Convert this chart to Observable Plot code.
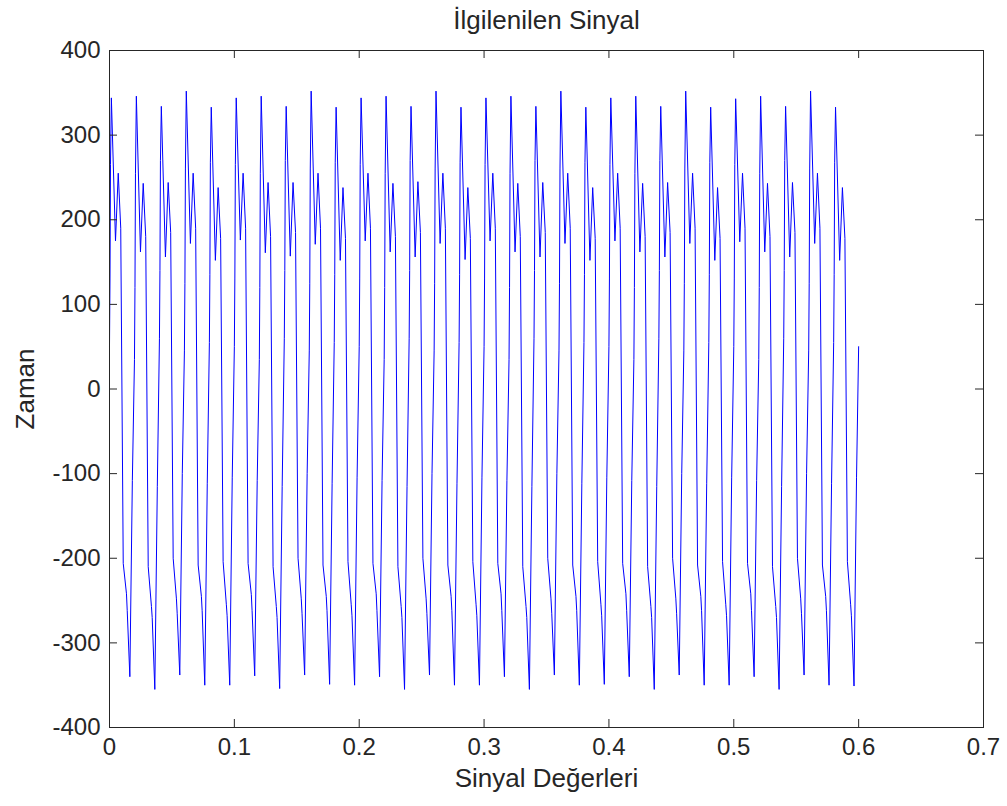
<!DOCTYPE html>
<html><head><meta charset="utf-8">
<script src="https://cdn.jsdelivr.net/npm/d3@7"></script>
<script src="https://cdn.jsdelivr.net/npm/@observablehq/plot@0.6"></script>
<style>body{margin:0;background:#fff}</style>
</head><body><div id="chart"></div>
<script>
const title = "İlgilenilen Sinyal";
const xLabel = "Sinyal Değerleri";
const yLabel = "Zaman";
const xTicks = [0, 0.1, 0.2, 0.3, 0.4, 0.5, 0.6, 0.7];
const yTicks = [-400, -300, -200, -100, 0, 100, 200, 300, 400];

// cycle length (s) and times, inside one cycle, of the key points
const cyclePeriod = 0.02;
const keyOffsets = [0, 0.0004, 0.0008, 0.0015, 0.0048, 0.0070, 0.0090, 0.0110, 0.0136, 0.0142, 0.0163, 0.0183];
// per cycle: start, rise, rise, peak, dip, 2nd peak, fall, fall, shelf, shelf step, minimum, rise
const cycleValues = [
  [50, 130, 265, 344, 175, 255, 190, -206, -242, -262, -340, -108],
  [35, 120, 255, 346, 162, 243, 180, -210, -257, -270, -355, -115],
  [60, 140, 270, 334, 156, 244, 185, -200, -248, -265, -338, -100],
  [45, 125, 260, 352, 172, 255, 190, -208, -245, -262, -350, -112],
  [55, 135, 268, 333, 152, 238, 178, -204, -255, -268, -350, -105],
  [50, 130, 265, 344, 176, 255, 190, -206, -243, -262, -339, -108],
  [35, 120, 255, 346, 161, 244, 180, -210, -257, -270, -354, -115],
  [60, 140, 270, 334, 157, 244, 185, -200, -248, -265, -338, -100],
  [45, 125, 260, 352, 171, 255, 190, -208, -245, -262, -349, -112],
  [55, 135, 268, 333, 152, 238, 178, -204, -255, -268, -350, -105],
  [50, 130, 265, 344, 175, 255, 190, -206, -242, -262, -340, -108],
  [35, 120, 255, 346, 162, 243, 180, -210, -257, -270, -355, -115],
  [60, 140, 270, 334, 156, 245, 185, -200, -248, -265, -338, -100],
  [45, 125, 260, 352, 172, 255, 190, -208, -245, -262, -350, -112],
  [55, 135, 268, 333, 153, 238, 178, -204, -255, -268, -350, -105],
  [50, 130, 265, 344, 175, 255, 190, -206, -242, -262, -340, -108],
  [35, 120, 255, 346, 162, 243, 180, -210, -257, -270, -355, -115],
  [60, 140, 270, 334, 156, 244, 185, -200, -248, -265, -338, -100],
  [45, 125, 260, 352, 172, 255, 190, -208, -245, -262, -350, -112],
  [55, 135, 268, 333, 152, 238, 178, -204, -255, -268, -349, -105],
  [50, 130, 265, 344, 175, 255, 190, -206, -242, -262, -340, -108],
  [35, 120, 255, 346, 162, 243, 180, -210, -257, -270, -355, -115],
  [60, 140, 270, 334, 156, 244, 185, -200, -248, -265, -338, -100],
  [45, 125, 260, 352, 172, 255, 190, -208, -245, -262, -350, -112],
  [55, 135, 268, 333, 152, 238, 178, -204, -255, -268, -350, -105],
  [50, 130, 265, 343, 174, 255, 190, -206, -242, -262, -340, -108],
  [35, 120, 255, 346, 162, 243, 180, -210, -257, -270, -355, -115],
  [60, 140, 270, 334, 156, 244, 185, -200, -248, -265, -338, -100],
  [45, 125, 260, 352, 172, 255, 190, -208, -245, -262, -350, -112],
  [55, 135, 268, 333, 152, 238, 178, -204, -255, -268, -351, -105]
];
const endPoint = {t: 0.6, v: 50};

const data = [];
cycleValues.forEach((row, k) => {
  row.forEach((v, j) => data.push({t: k * cyclePeriod + keyOffsets[j], v}));
});
data.push(endPoint);

const W = 1007, H = 806;
const mL = 109, mR = 24, mT = 50, mB = 79;
const plotH = H - mT - mB, plotW = W - mL - mR;
const ink = "#262626";
const tick = 8;

const chart = Plot.plot({
  width: W, height: H,
  marginLeft: mL, marginRight: mR, marginTop: mT, marginBottom: mB,
  x: {domain: [0, 0.7]},
  y: {domain: [-400, 400]},
  style: {fontFamily: "'Liberation Sans', Arial, sans-serif", fontSize: "24px", color: ink, background: "#fff"},
  marks: [
    Plot.axisX(xTicks, {tickSize: 0, tickPadding: 10, label: null, tickFormat: d => String(d), fontSize: 24, fill: ink}),
    Plot.axisY(yTicks, {tickSize: 0, tickPadding: 9, label: null, tickFormat: d => String(d), fontSize: 24, fill: ink}),
    Plot.line(data, {x: "t", y: "v", stroke: "#0000ff", strokeWidth: 1}),
    Plot.tickX(xTicks, {x: d => d, insetTop: plotH - tick, stroke: ink}),
    Plot.tickX(xTicks, {x: d => d, insetBottom: plotH - tick, stroke: ink}),
    Plot.tickY(yTicks, {y: d => d, insetRight: plotW - tick, stroke: ink}),
    Plot.tickY(yTicks, {y: d => d, insetLeft: plotW - tick, stroke: ink}),
    Plot.frame({stroke: ink}),
    Plot.text([title], {text: d => d, frameAnchor: "top", dy: -30, lineAnchor: "middle", textAnchor: "middle", fontSize: 26, fill: ink}),
    Plot.text([xLabel], {text: d => d, frameAnchor: "bottom", dy: 51, lineAnchor: "middle", textAnchor: "middle", fontSize: 26, fill: ink}),
    Plot.text([yLabel], {text: d => d, frameAnchor: "left", dx: -84, rotate: -90, lineAnchor: "middle", textAnchor: "middle", fontSize: 26, fill: ink})
  ]
});
document.getElementById("chart").appendChild(chart);
</script>
</body></html>
